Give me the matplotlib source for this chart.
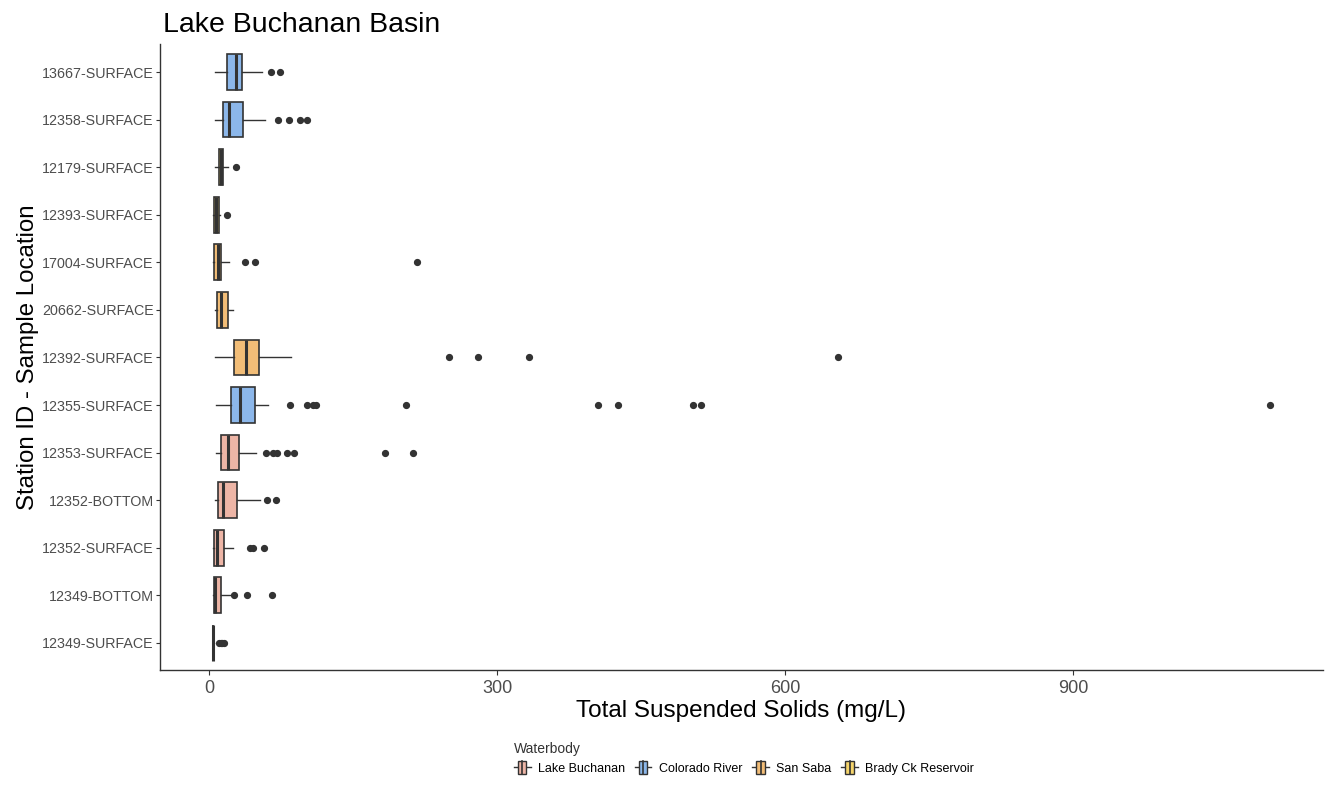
import matplotlib
matplotlib.use("Agg")
import matplotlib.pyplot as plt
from matplotlib.patches import Patch
from matplotlib.lines import Line2D
import matplotlib.patches as mpatches
from matplotlib.legend_handler import HandlerBase

plt.rcParams['font.family'] = ['Liberation Sans', 'DejaVu Sans']

# Stations from bottom to top
stations = ["12349-SURFACE", "12349-BOTTOM", "12352-SURFACE", "12352-BOTTOM",
            "12353-SURFACE", "12355-SURFACE", "12392-SURFACE", "20662-SURFACE",
            "17004-SURFACE", "12393-SURFACE", "12179-SURFACE", "12358-SURFACE",
            "13667-SURFACE"]
waterbody = ["Lake Buchanan", "Lake Buchanan", "Lake Buchanan", "Lake Buchanan",
             "Lake Buchanan", "Colorado River", "San Saba", "San Saba",
             "San Saba", "Brady Ck Reservoir", "Brady Ck Reservoir", "Colorado River",
             "Colorado River"]
whislo = [4, 4, 4, 6, 7, 7, 6, 6, 4, 4, 6, 6, 6]
q1 =     [4, 5, 5.5, 9.5, 12, 23, 26, 8.7, 5.6, 5.6, 10.4, 15, 18.5]
med =    [4, 5.8, 8.7, 15, 19.5, 32, 39, 12, 9, 7, 12.5, 21, 28]
q3 =     [4.5, 13, 16, 29, 31, 48, 52, 20, 13, 10.7, 15, 35, 34]
whishi = [5, 22, 25, 53, 49, 61, 85, 25, 21, 11.5, 20, 58, 55]
fliers = [[10, 12, 14, 16],
          [26, 40, 66],
          [42.5, 46, 57.6],
          [60, 69.5],
          [59, 67, 70.5, 81.5, 88.5, 183, 212],
          [84, 102, 108, 111.5, 205, 405, 426, 504, 512, 1105],
          [250, 280, 333, 655],
          [],
          [38, 48, 217],
          [18.4],
          [28],
          [72, 83, 95, 102],
          [65, 74]]

wb_names = ["Lake Buchanan", "Colorado River", "San Saba", "Brady Ck Reservoir"]
wb_colors = ["#EDB5A6", "#8CB7EA", "#F2BD77", "#F6D56B"]
cmap = dict(zip(wb_names, wb_colors))

fig = plt.figure(figsize=(13.27, 7.86), dpi=100)
ax = fig.add_axes([160/1327, 1-670/786, (1323-160)/1327, (670-43.5)/786])

stats = []
for i in range(len(stations)):
    stats.append(dict(whislo=whislo[i], q1=q1[i], med=med[i], q3=q3[i],
                      whishi=whishi[i], fliers=fliers[i], label=stations[i]))

edge = "#333333"
bp = ax.bxp(stats, positions=range(len(stations)), vert=False, widths=0.75,
            patch_artist=True, showcaps=False,
            boxprops=dict(edgecolor=edge, linewidth=1.2),
            medianprops=dict(color=edge, linewidth=2.2),
            whiskerprops=dict(color=edge, linewidth=1.0),
            flierprops=dict(marker='o', markerfacecolor=edge, markeredgecolor=edge,
                            markersize=4.2, linestyle='none'))
for patch, wb in zip(bp['boxes'], waterbody):
    patch.set_facecolor(cmap[wb])

ax.set_xlim(-51, 1160)
ax.set_ylim(-0.57, len(stations) - 1 + 0.6)
ax.set_xticks([0, 300, 600, 900])
ax.set_yticks(range(len(stations)))
ax.set_yticklabels(stations)
ax.tick_params(axis='y', labelsize=10.3, labelcolor="#4D4D4D", color="#333333", length=3, pad=1.5)
ax.tick_params(axis='x', labelsize=13, labelcolor="#4D4D4D", color="#333333", length=3.5)
for s in ['top', 'right']:
    ax.spines[s].set_visible(False)
for s in ['left', 'bottom']:
    ax.spines[s].set_color("#333333")
    ax.spines[s].set_linewidth(1.0)

ax.set_xlabel("Total Suspended Solids (mg/L)", fontsize=17.5, labelpad=2)
ax.set_ylabel("Station ID - Sample Location", fontsize=17.3, labelpad=2)
ax.set_title("Lake Buchanan Basin", fontsize=20.5, loc='left', pad=8, x=0.003)


class BoxHandler(HandlerBase):
    def create_artists(self, legend, orig_handle, xdescent, ydescent, width, height, fontsize, trans):
        col = orig_handle.get_facecolor()
        cx = width / 2 - xdescent
        bw = width * 0.5
        h = height * 1.5
        y0 = -ydescent + (height - h) / 2
        wl = Line2D([-xdescent, width - xdescent], [y0 + h / 2] * 2, color=edge, lw=1.0, transform=trans)
        rect = mpatches.Rectangle((cx - bw / 2, y0), bw, h, facecolor=col, edgecolor=edge, lw=1.0, transform=trans)
        ml = Line2D([cx, cx], [y0, y0 + h], color=edge, lw=1.2, transform=trans)
        return [wl, rect, ml]

handles = [Patch(facecolor=c, label=n) for n, c in zip(wb_names, wb_colors)]
leg = fig.legend(handles=handles, labels=wb_names, loc='lower left',
                 bbox_to_anchor=(503/1327, 1-786/786), ncol=4, frameon=False,
                 title="Waterbody", fontsize=9, title_fontsize=10,
                 handler_map={Patch: BoxHandler()}, handlelength=1.3,
                 columnspacing=0.8, handletextpad=0.6, alignment='left')
leg.get_title().set_color("#333333")

fig.savefig("out.png", dpi=100)
